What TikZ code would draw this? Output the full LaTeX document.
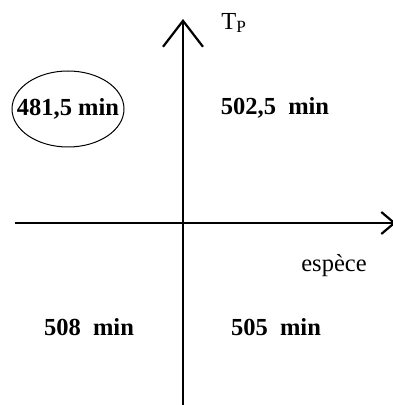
\documentclass[tikz,border=0pt]{standalone}
\usepackage{fontspec}
\setmainfont{Liberation Serif}
\usetikzlibrary{arrows.meta}
\tikzset{
  axe/.style={line width=2.2pt},
  duree/.style={font=\fontsize{24.5}{28}\selectfont\bfseries},
  legende/.style={font=\fontsize{24.5}{28}\selectfont}
}
\begin{document}
\begin{tikzpicture}[x=1pt,y=1pt]
            \useasboundingbox (0,0) rectangle (393,405);
            \clip (0,0) rectangle (393,405);
            \coordinate (ybas) at (183,0);
            \coordinate (yhaut) at (183,386);
            \coordinate (xgauche) at (15,182);
            \coordinate (xdroite) at (396,182);
            \draw[axe, -{Straight Barb[length=26pt,width=40pt,line width=2.2pt]}] (ybas) -- (yhaut);
            \draw[axe, -{Straight Barb[length=13pt,width=22pt,line width=2.2pt]}] (xgauche) -- (xdroite);
            \node[legende] (tp) at (234,382) {T\textsubscript{P}};
            \node[legende] (espece) at (334,139) {espèce};
            \node[duree] (hg) at (68,296) {481,5 min};
            \draw[line width=1pt] (hg.center) ellipse (56 and 38);
            \node[duree] (hd) at (275,297) {502,5\ \ min};
            \node[duree] (bg) at (89,78) {508\ \ min};
            \node[duree] (bd) at (276,78) {505\ \ min};
        \end{tikzpicture}
\end{document}
